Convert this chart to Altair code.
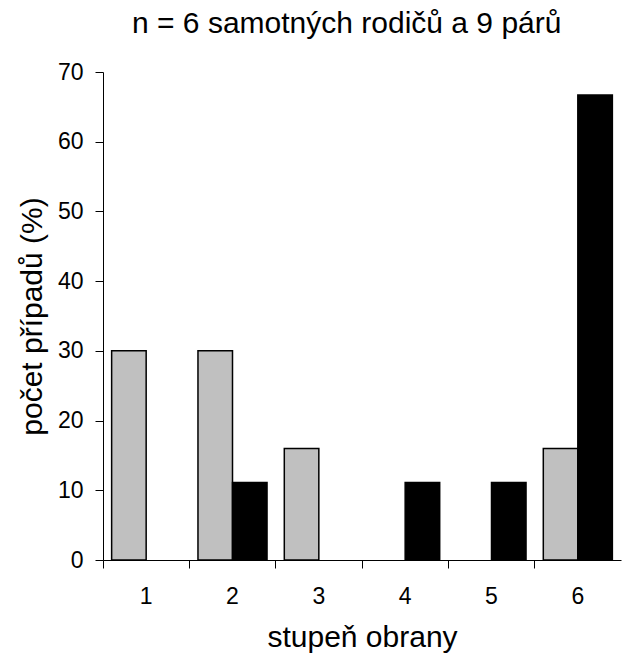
import altair as alt
import pandas as pd

# Stupeň obrany (1–6) a podíl případů v procentech pro obě skupiny
stupne = [1, 2, 3, 4, 5, 6]
samotni_rodice = [30, 30, 16, 0, 0, 16]
pary = [0, 11.1, 0, 11.1, 11.1, 66.7]
skupiny = ["samotní rodiče", "páry"]
barvy = ["#c0c0c0", "#000000"]
osa_y = [0, 10, 20, 30, 40, 50, 60, 70]

rows = []
for s, a, b in zip(stupne, samotni_rodice, pary):
    rows.append({"stupen": s, "skupina": skupiny[0], "procent": a})
    rows.append({"stupen": s, "skupina": skupiny[1], "procent": b})
df = pd.DataFrame(rows)

W, H = 518, 488
FONT = "Liberation Sans"

bars = (
    alt.Chart(df)
    .transform_filter("datum.procent > 0")
    .mark_bar(stroke="black", strokeWidth=1.5)
    .encode(
        x=alt.X(
            "stupen:O",
            sort=stupne,
            scale=alt.Scale(domain=stupne, paddingInner=0, paddingOuter=0),
            axis=alt.Axis(
                title="stupeň obrany",
                titleFontSize=30,
                titleFontWeight="normal",
                titleFont=FONT,
                titleColor="black",
                titlePadding=14,
                labelFont=FONT,
                labelFontSize=23,
                labelColor="black",
                labelAngle=0,
                labelPadding=17,
                bandPosition=0,
                tickSize=8,
                tickColor="black",
                domainColor="black",
                grid=False,
            ),
        ),
        xOffset=alt.XOffset(
            "skupina:N",
            sort=skupiny,
            scale=alt.Scale(domain=skupiny, paddingInner=0, paddingOuter=0.25),
        ),
        y=alt.Y(
            "procent:Q",
            scale=alt.Scale(domain=[0, 70], nice=False),
            axis=alt.Axis(
                title="počet případů (%)",
                titleFontSize=30,
                titleFontWeight="normal",
                titleFont=FONT,
                titleColor="black",
                titlePadding=10,
                labelFont=FONT,
                labelFontSize=23,
                labelColor="black",
                labelPadding=12,
                values=osa_y,
                tickSize=8,
                tickColor="black",
                domainColor="black",
                grid=False,
            ),
        ),
        color=alt.Color(
            "skupina:N", scale=alt.Scale(domain=skupiny, range=barvy), legend=None
        ),
    )
)

chart = (
    bars.properties(
        width=W,
        height=H,
        title=alt.TitleParams(
            "n = 6 samotných rodičů a 9 párů",
            anchor="start",
            frame="group",
            dx=29,
            offset=-2,
            baseline="alphabetic",
            font=FONT,
            fontSize=30,
            fontWeight="normal",
            color="black",
        ),
        autosize=alt.AutoSizeParams(type="none"),
        padding={"left": 103, "top": 72, "right": 1, "bottom": 105},
    )
    .configure(background="white")
    .configure_view(stroke=None)
)

chart.save("out.html", embed_options={"renderer": "svg", "actions": False})
